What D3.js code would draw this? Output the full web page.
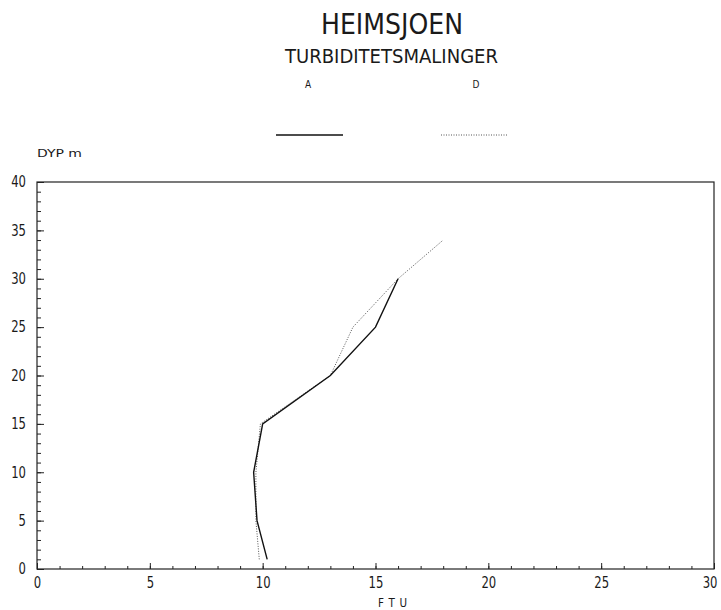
<!DOCTYPE html>
<html>
<head>
<meta charset="utf-8">
<script src="https://cdn.jsdelivr.net/npm/d3@7"></script>
<style>
  body { margin: 0; background: #fff; }
  text { font-family: "DejaVu Sans Condensed", "Liberation Sans Narrow", sans-serif; fill: #1a1a1a; }
</style>
</head>
<body>
<div id="chart"></div>
<script>
// Data: turbidity (FTU) vs depth (m)
const depthA = [1, 5, 10, 15, 20, 25, 30];
const ftuA   = [10.2, 9.75, 9.6, 10.0, 13, 15, 16];
const depthD = [1, 5, 10, 15, 20, 25, 30, 34];
const ftuD   = [9.85, 9.7, 9.7, 9.9, 13, 14, 16, 18];

const xTicks = [0, 5, 10, 15, 20, 25, 30];
const yTicks = [0, 5, 10, 15, 20, 25, 30, 35, 40];

const width = 721, height = 610;
const margin = { left: 37, right: 7, top: 182, bottom: 41 };

const svg = d3.select('#chart')
  .append('svg')
  .attr('width', width)
  .attr('height', height);

svg.append('rect').attr('width', width).attr('height', height).attr('fill', '#fff');

const x = d3.scaleLinear().domain([0, 30]).range([margin.left, width - margin.right]);
const y = d3.scaleLinear().domain([0, 40]).range([height - margin.bottom, margin.top]);

// Titles
svg.append('text')
  .attr('x', 321).attr('y', 34)
  .attr('textLength', 142).attr('lengthAdjust', 'spacingAndGlyphs')
  .style('font-size', '29px')
  .text('HEIMSJOEN');

svg.append('text')
  .attr('x', 285).attr('y', 63)
  .attr('textLength', 213).attr('lengthAdjust', 'spacingAndGlyphs')
  .style('font-size', '20px')
  .text('TURBIDITETSMALINGER');

// Legend
const legend = [
  { name: 'A', x: 276, dash: null, labelX: 308 },
  { name: 'D', x: 441, dash: '1,1.5', labelX: 476 }
];
legend.forEach(l => {
  svg.append('text')
    .attr('x', l.labelX).attr('y', 88)
    .attr('text-anchor', 'middle')
    .style('font-size', '10px')
    .text(l.name);
  svg.append('line')
    .attr('x1', l.x).attr('x2', l.x + 67)
    .attr('y1', 135).attr('y2', 135)
    .attr('stroke', l.dash ? '#555' : '#111')
    .attr('stroke-width', l.dash ? 1 : 1.4)
    .attr('stroke-dasharray', l.dash);
});

// Axis titles
svg.append('text')
  .attr('x', 37).attr('y', 157)
  .style('font-size', '10px')
  .attr('textLength', 45).attr('lengthAdjust', 'spacingAndGlyphs')
  .text('DYP  m');

svg.append('text')
  .attr('x', 378).attr('y', 607)
  .style('font-size', '11.5px')
  .attr('textLength', 29).attr('lengthAdjust', 'spacing')
  .text('FTU');

// Frame
svg.append('rect')
  .attr('x', x(0)).attr('y', y(40))
  .attr('width', x(30) - x(0)).attr('height', y(0) - y(40))
  .attr('fill', 'none')
  .attr('stroke', '#222')
  .attr('stroke-width', 1.2);

// Minor ticks (every unit), pointing inward
const xMinor = svg.append('g')
  .attr('transform', `translate(0,${y(0)})`)
  .call(d3.axisBottom(x).ticks(30).tickSize(-3).tickFormat(''));
const yMinor = svg.append('g')
  .attr('transform', `translate(${x(0)},0)`)
  .call(d3.axisLeft(y).ticks(40).tickSize(-4).tickFormat(''));

// Major ticks with labels
const xAxis = svg.append('g')
  .attr('transform', `translate(0,${y(0)})`)
  .call(d3.axisBottom(x).tickValues(xTicks).tickSize(-6).tickPadding(8).tickFormat(d3.format('d')));
const yAxis = svg.append('g')
  .attr('transform', `translate(${x(0)},0)`)
  .call(d3.axisLeft(y).tickValues(yTicks).tickSize(-7).tickPadding(11).tickFormat(d3.format('d')));

[xMinor, yMinor, xAxis, yAxis].forEach(g => {
  g.select('.domain').remove();
  g.selectAll('line').attr('stroke', '#222').attr('stroke-width', 1);
});
[xAxis, yAxis].forEach(g => {
  g.selectAll('text')
    .style('font-size', '15px')
    .style('font-family', '"DejaVu Sans Condensed", sans-serif')
    .attr('fill', '#1a1a1a')
    .attr('textLength', d => String(d).length * 7.4)
    .attr('lengthAdjust', 'spacingAndGlyphs');
});
// last x label sits against the right edge, keep it inside the page
xAxis.selectAll('.tick')
  .filter(d => d === 30)
  .select('text')
  .attr('text-anchor', 'end')
  .attr('x', 3);

// Lines
const line = d3.line().x(d => x(d[0])).y(d => y(d[1]));

svg.append('path')
  .datum(d3.zip(ftuD, depthD))
  .attr('d', line)
  .attr('fill', 'none')
  .attr('stroke', '#555')
  .attr('stroke-width', 1)
  .attr('stroke-dasharray', '1,1.5');

svg.append('path')
  .datum(d3.zip(ftuA, depthA))
  .attr('d', line)
  .attr('fill', 'none')
  .attr('stroke', '#111')
  .attr('stroke-width', 1.4);
</script>
</body>
</html>
